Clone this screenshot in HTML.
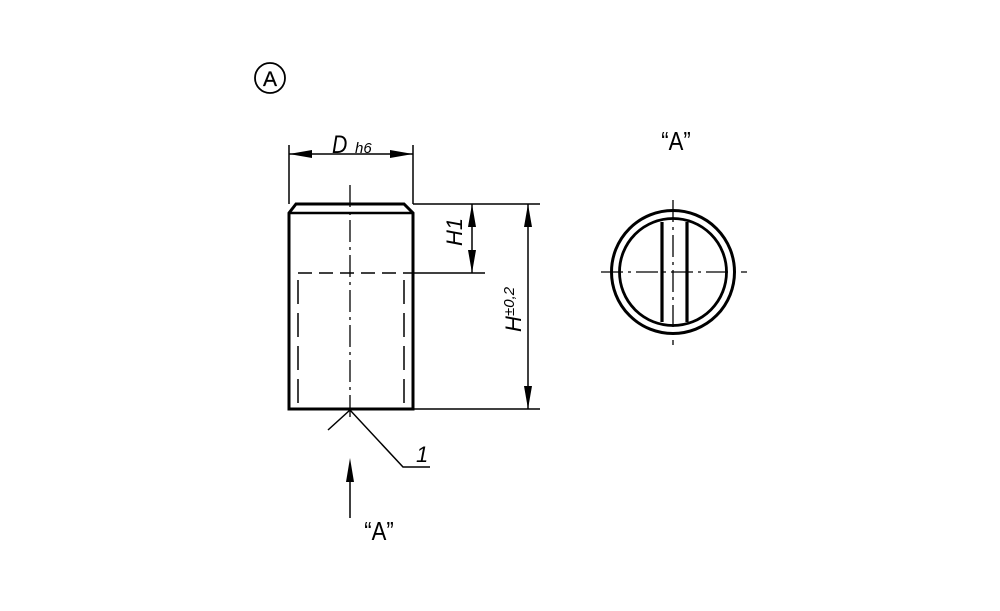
<!DOCTYPE html>
<html><head><style>
html,body{margin:0;padding:0;background:#fff;}
svg{display:block;}
text{font-family:"Liberation Sans",sans-serif;fill:#000;}
</style></head><body>
<svg width="1000" height="611" viewBox="0 0 1000 611" xmlns="http://www.w3.org/2000/svg">
<rect width="1000" height="611" fill="#fff"/>
<circle cx="270" cy="78" r="15" fill="none" stroke="#000" stroke-width="1.8"/>
<text x="270" y="86" font-size="21" text-anchor="middle" stroke="#000" stroke-width="0.3">A</text>

<g stroke="#000" fill="none">
<path d="M289,409 L289,213 L296,204 L404,204 L413,213 L413,409 Z" stroke-width="3"/>
<line x1="289" y1="213" x2="413" y2="213" stroke-width="2.5"/>
<line x1="298" y1="273" x2="413" y2="273" stroke-width="1.5" stroke-dasharray="14,7"/>
<line x1="413" y1="273" x2="485" y2="273" stroke-width="1.5"/>
<line x1="298" y1="280" x2="298" y2="409" stroke-width="1.5" stroke-dasharray="24,9"/>
<line x1="404" y1="280" x2="404" y2="409" stroke-width="1.5" stroke-dasharray="24,9"/>
<line x1="350" y1="185" x2="350" y2="420" stroke-width="1.3" stroke-dasharray="22,5,3,5"/>
<line x1="289" y1="145" x2="289" y2="204" stroke-width="1.5"/>
<line x1="413" y1="145" x2="413" y2="204" stroke-width="1.5"/>
<line x1="289" y1="154" x2="413" y2="154" stroke-width="1.5"/>
<line x1="413" y1="204" x2="540" y2="204" stroke-width="1.5"/>
<line x1="413" y1="409" x2="540" y2="409" stroke-width="1.5"/>
<line x1="472" y1="204" x2="472" y2="273" stroke-width="1.5"/>
<line x1="528" y1="204" x2="528" y2="409" stroke-width="1.5"/>
<polyline points="328,430 350,410 403,467 430,467" stroke-width="1.5"/>
<line x1="350" y1="470" x2="350" y2="518" stroke-width="1.5"/>
</g>
<g fill="#000">
<polygon points="289,154 312,150 312,158"/>
<polygon points="413,154 390,150 390,158"/>
<polygon points="472,204 468,227 476,227"/>
<polygon points="472,273 468,250 476,250"/>
<polygon points="528,204 524,227 532,227"/>
<polygon points="528,409 524,386 532,386"/>
<polygon points="350,458 346,482 354,482"/>
</g>
<text x="332" y="153" font-size="25" font-style="italic" transform="translate(332,153) scale(0.85,1) translate(-332,-153)">D</text>
<text x="355" y="153" font-size="15" font-style="italic">h6</text>
<text font-size="22" font-style="italic" transform="translate(462,246) rotate(-90)">H1</text>
<text font-size="22" font-style="italic" transform="translate(521,332) rotate(-90)">H</text>
<text font-size="15" font-style="italic" transform="translate(514,316) rotate(-90)">±0,2</text>
<text x="416" y="462" font-size="22" font-style="italic">1</text>
<text x="379" y="540" font-size="26" text-anchor="middle" transform="translate(379,540) scale(0.85,1) translate(-379,-540)">“A”</text>
<text x="676" y="150" font-size="26" text-anchor="middle" transform="translate(676,150) scale(0.85,1) translate(-676,-150)">“A”</text>

<g stroke="#000" fill="none">
<circle cx="673" cy="272" r="61.5" stroke-width="3"/>
<circle cx="673" cy="272" r="53.5" stroke-width="2.8"/>
<line x1="662" y1="222" x2="662" y2="322" stroke-width="3.2"/>
<line x1="687" y1="222" x2="687" y2="322" stroke-width="3.2"/>
<line x1="601" y1="272" x2="747" y2="272" stroke-width="1.3" stroke-dasharray="22,5,3,5"/>
<line x1="673" y1="200" x2="673" y2="345" stroke-width="1.3" stroke-dasharray="22,5,3,5"/>
</g>
</svg>
</body></html>
